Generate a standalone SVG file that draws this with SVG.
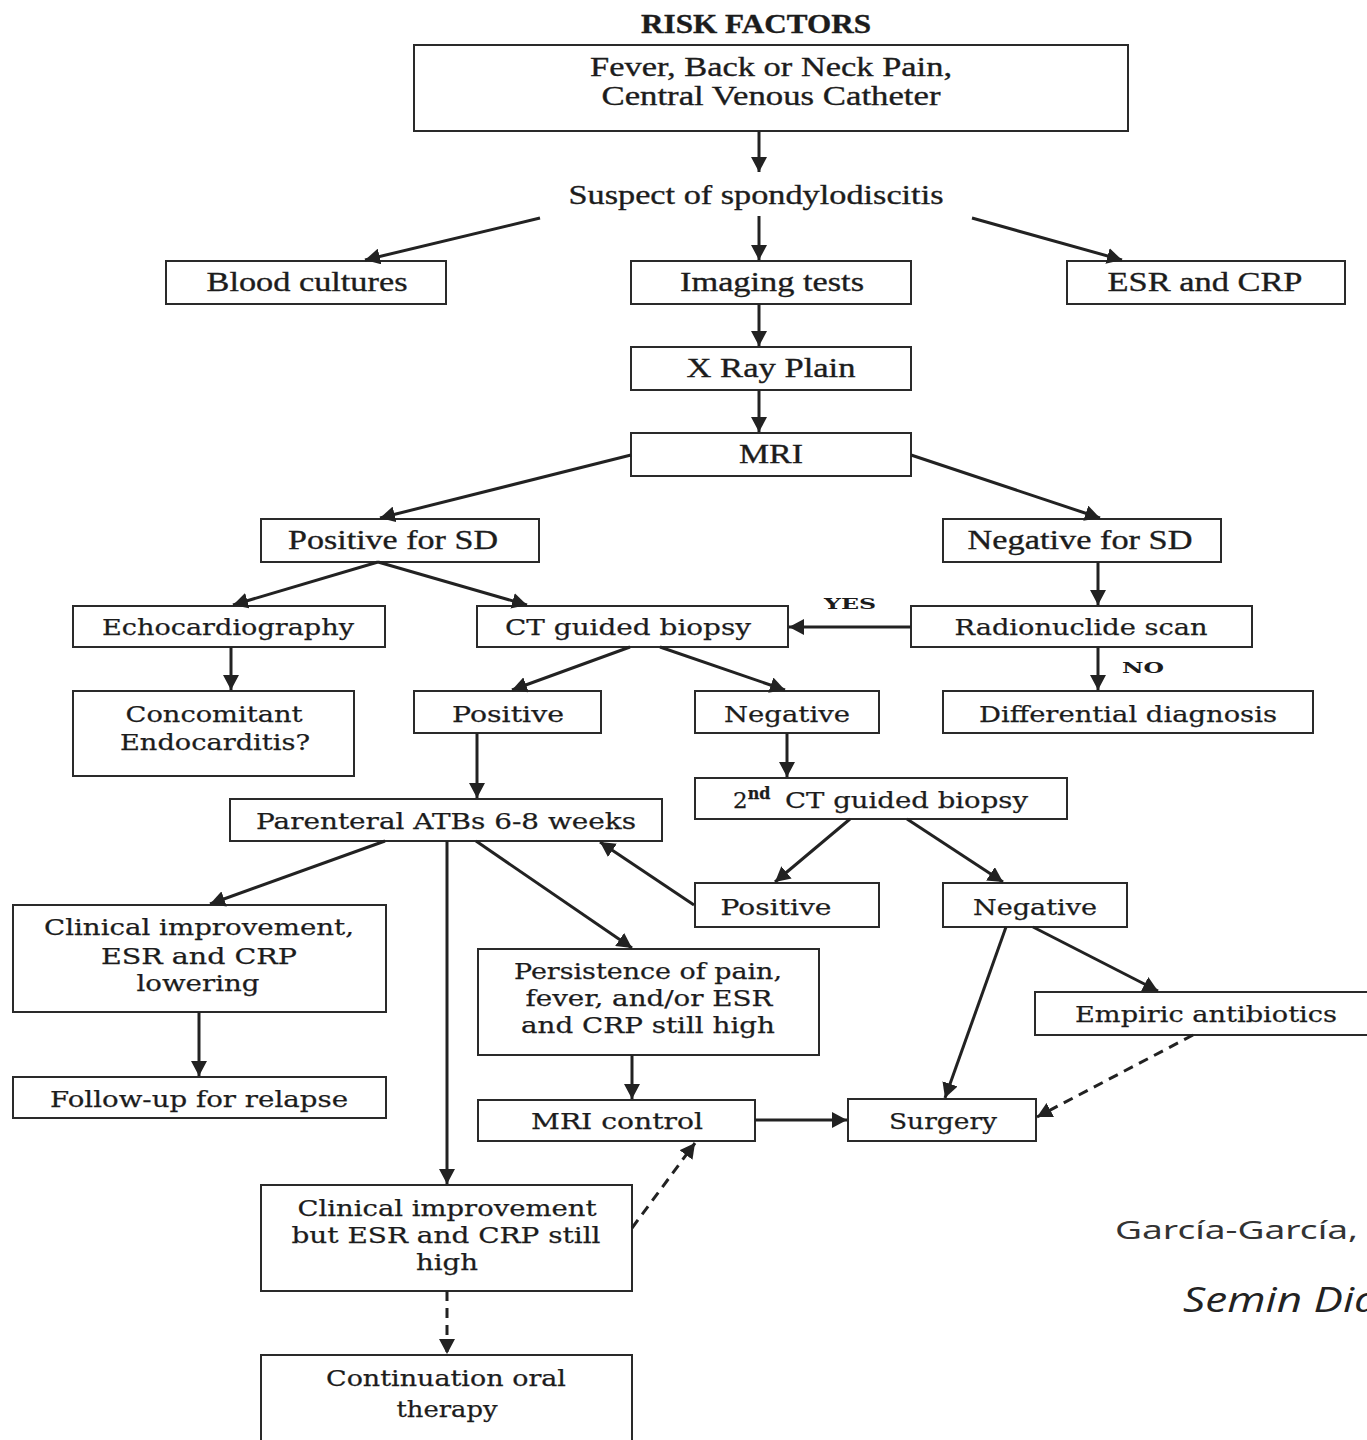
<svg xmlns="http://www.w3.org/2000/svg" width="1367" height="1440" viewBox="0 0 1367 1440">
<style>
.bg{fill:#fff}
.box{fill:#fff;stroke:#2a2a2a;stroke-width:2}
.t{font-family:"Liberation Serif",serif;font-size:28px;fill:#1c1c1c;stroke:#1c1c1c;stroke-width:0.35;text-anchor:middle}
.c{font-family:"DejaVu Serif",serif;font-size:23px;fill:#1c1c1c;stroke:#1c1c1c;stroke-width:0.25;text-anchor:middle}
.lbl{font-family:"DejaVu Serif",serif;font-size:15px;font-weight:bold;fill:#1c1c1c;text-anchor:middle}
.e{stroke:#222;stroke-width:3;fill:none;marker-end:url(#ah)}
.d{stroke-dasharray:10 7}
.cite1{font-family:"Noto Sans",sans-serif;font-size:25px;fill:#333}
.cite2{font-family:"Open Sans",sans-serif;font-size:34px;font-style:italic;fill:#222}
</style>
<defs>
<marker id="ah" markerUnits="userSpaceOnUse" markerWidth="16" markerHeight="16" refX="15" refY="8" orient="auto">
<path d="M0,0 L15,8 L0,16 z" fill="#222"/>
</marker>
</defs>
<rect class="bg" x="0" y="0" width="1367" height="1440"/>

<g id="title"><text class="t" x="756" y="33" font-weight="bold" font-size="22" textLength="230" lengthAdjust="spacingAndGlyphs">RISK FACTORS</text></g>

<g id="risk"><rect class="box" x="414" y="45" width="714" height="86"/>
<text class="t" x="771" y="76" font-size="23" textLength="362" lengthAdjust="spacingAndGlyphs">Fever, Back or Neck Pain,</text>
<text class="t" x="771" y="105" font-size="23" textLength="339" lengthAdjust="spacingAndGlyphs">Central Venous Catheter</text></g>

<g id="suspect"><text class="t" x="756" y="204" textLength="375" lengthAdjust="spacingAndGlyphs">Suspect of spondylodiscitis</text></g>

<g id="blood"><rect class="box" x="166" y="261" width="280" height="43"/>
<text class="t" x="307" y="291" textLength="201" lengthAdjust="spacingAndGlyphs">Blood cultures</text></g>
<g id="imaging"><rect class="box" x="631" y="261" width="280" height="43"/>
<text class="t" x="772" y="291" textLength="184" lengthAdjust="spacingAndGlyphs">Imaging tests</text></g>
<g id="esr"><rect class="box" x="1067" y="261" width="278" height="43"/>
<text class="t" x="1205" y="291" textLength="195" lengthAdjust="spacingAndGlyphs">ESR and CRP</text></g>
<g id="xray"><rect class="box" x="631" y="347" width="280" height="43"/>
<text class="t" x="771" y="377" textLength="169" lengthAdjust="spacingAndGlyphs">X Ray Plain</text></g>
<g id="mri"><rect class="box" x="631" y="433" width="280" height="43"/>
<text class="t" x="771" y="463" textLength="64" lengthAdjust="spacingAndGlyphs">MRI</text></g>
<g id="possd"><rect class="box" x="261" y="519" width="278" height="43"/>
<text class="t" x="393" y="549" textLength="210" lengthAdjust="spacingAndGlyphs">Positive for SD</text></g>
<g id="negsd"><rect class="box" x="943" y="519" width="278" height="43"/>
<text class="t" x="1080" y="549" textLength="225" lengthAdjust="spacingAndGlyphs">Negative for SD</text></g>

<g id="echo"><rect class="box" x="73" y="606" width="312" height="41"/>
<text class="c" x="228" y="635" textLength="252" lengthAdjust="spacingAndGlyphs">Echocardiography</text></g>
<g id="ctbiopsy"><rect class="box" x="477" y="606" width="311" height="41"/>
<text class="c" x="628" y="635" textLength="246" lengthAdjust="spacingAndGlyphs">CT guided biopsy</text></g>
<g id="radio"><rect class="box" x="911" y="606" width="341" height="41"/>
<text class="c" x="1081" y="635" textLength="253" lengthAdjust="spacingAndGlyphs">Radionuclide scan</text></g>
<g id="endo"><rect class="box" x="73" y="691" width="281" height="85"/>
<text class="c" x="214" y="722" textLength="177" lengthAdjust="spacingAndGlyphs">Concomitant</text>
<text class="c" x="215" y="750" textLength="190" lengthAdjust="spacingAndGlyphs">Endocarditis?</text></g>
<g id="pos1"><rect class="box" x="414" y="691" width="187" height="42"/>
<text class="c" x="508" y="722" textLength="112" lengthAdjust="spacingAndGlyphs">Positive</text></g>
<g id="neg1"><rect class="box" x="695" y="691" width="184" height="42"/>
<text class="c" x="787" y="722" textLength="126" lengthAdjust="spacingAndGlyphs">Negative</text></g>
<g id="diff"><rect class="box" x="943" y="691" width="370" height="42"/>
<text class="c" x="1128" y="722" textLength="298" lengthAdjust="spacingAndGlyphs">Differential diagnosis</text></g>
<g id="atb"><rect class="box" x="230" y="799" width="432" height="42"/>
<text class="c" x="446" y="829" textLength="380" lengthAdjust="spacingAndGlyphs">Parenteral ATBs 6-8 weeks</text></g>
<g id="ct2"><rect class="box" x="695" y="778" width="372" height="41"/>
<text class="c" x="733" y="808" style="text-anchor:start">2<tspan font-size="16" dy="-9" font-weight="bold">nd</tspan><tspan x="785" dy="9" textLength="243" lengthAdjust="spacingAndGlyphs">CT guided biopsy</tspan></text></g>
<g id="pos2"><rect class="box" x="695" y="883" width="184" height="44"/>
<text class="c" x="776" y="915" textLength="111" lengthAdjust="spacingAndGlyphs">Positive</text></g>
<g id="neg2"><rect class="box" x="943" y="883" width="184" height="44"/>
<text class="c" x="1035" y="915" textLength="124" lengthAdjust="spacingAndGlyphs">Negative</text></g>
<g id="clin1"><rect class="box" x="13" y="905" width="373" height="107"/>
<text class="c" x="199" y="935" textLength="310" lengthAdjust="spacingAndGlyphs">Clinical improvement,</text>
<text class="c" x="199" y="964" textLength="196" lengthAdjust="spacingAndGlyphs">ESR and CRP</text>
<text class="c" x="198" y="991" textLength="123" lengthAdjust="spacingAndGlyphs">lowering</text></g>
<g id="persist"><rect class="box" x="478" y="949" width="341" height="106"/>
<text class="c" x="648" y="979" textLength="268" lengthAdjust="spacingAndGlyphs">Persistence of pain,</text>
<text class="c" x="649" y="1006" textLength="247" lengthAdjust="spacingAndGlyphs">fever, and/or ESR</text>
<text class="c" x="648" y="1033" textLength="254" lengthAdjust="spacingAndGlyphs">and CRP still high</text></g>
<g id="empiric"><rect class="box" x="1035" y="992" width="340" height="43"/>
<text class="c" x="1206" y="1022" textLength="262" lengthAdjust="spacingAndGlyphs">Empiric antibiotics</text></g>
<g id="follow"><rect class="box" x="13" y="1077" width="373" height="41"/>
<text class="c" x="199" y="1107" textLength="298" lengthAdjust="spacingAndGlyphs">Follow-up for relapse</text></g>
<g id="mricontrol"><rect class="box" x="478" y="1100" width="277" height="41"/>
<text class="c" x="617" y="1129" textLength="172" lengthAdjust="spacingAndGlyphs">MRI control</text></g>
<g id="surgery"><rect class="box" x="848" y="1099" width="188" height="42"/>
<text class="c" x="943" y="1129" textLength="108" lengthAdjust="spacingAndGlyphs">Surgery</text></g>
<g id="clin2"><rect class="box" x="261" y="1185" width="371" height="106"/>
<text class="c" x="447" y="1216" textLength="299" lengthAdjust="spacingAndGlyphs">Clinical improvement</text>
<text class="c" x="446" y="1243" textLength="309" lengthAdjust="spacingAndGlyphs">but ESR and CRP still</text>
<text class="c" x="447" y="1270" textLength="62" lengthAdjust="spacingAndGlyphs">high</text></g>
<g id="oral"><rect class="box" x="261" y="1355" width="371" height="100"/>
<text class="c" x="446" y="1386" textLength="240" lengthAdjust="spacingAndGlyphs">Continuation oral</text>
<text class="c" x="447" y="1417" textLength="101" lengthAdjust="spacingAndGlyphs">therapy</text></g>

<g id="connectors">
<line class="e" x1="759" y1="131" x2="759" y2="172"/>
<line class="e" x1="540" y1="218" x2="365" y2="260"/>
<line class="e" x1="759" y1="216" x2="759" y2="260"/>
<line class="e" x1="972" y1="218" x2="1122" y2="260"/>
<line class="e" x1="759" y1="304" x2="759" y2="346"/>
<line class="e" x1="759" y1="390" x2="759" y2="432"/>
<line class="e" x1="631" y1="455" x2="380" y2="518"/>
<line class="e" x1="911" y1="455" x2="1100" y2="518"/>
<line class="e" x1="378" y1="562" x2="233" y2="605"/>
<line class="e" x1="378" y1="562" x2="527" y2="605"/>
<line class="e" x1="1098" y1="562" x2="1098" y2="605"/>
<line class="e" x1="911" y1="627" x2="789" y2="627"/>
<line class="e" x1="1098" y1="647" x2="1098" y2="690"/>
<line class="e" x1="231" y1="647" x2="231" y2="690"/>
<line class="e" x1="630" y1="647" x2="512" y2="690"/>
<line class="e" x1="660" y1="647" x2="785" y2="690"/>
<line class="e" x1="477" y1="733" x2="477" y2="798"/>
<line class="e" x1="787" y1="733" x2="787" y2="777"/>
<line class="e" x1="850" y1="819" x2="775" y2="882"/>
<line class="e" x1="907" y1="819" x2="1003" y2="882"/>
<line class="e" x1="694" y1="905" x2="600" y2="842"/>
<line class="e" x1="385" y1="841" x2="210" y2="904"/>
<line class="e" x1="447" y1="841" x2="447" y2="1184"/>
<line class="e" x1="476" y1="841" x2="632" y2="948"/>
<line class="e" x1="199" y1="1012" x2="199" y2="1076"/>
<line class="e" x1="632" y1="1055" x2="632" y2="1099"/>
<line class="e" x1="755" y1="1120" x2="847" y2="1120"/>
<line class="e" x1="1006" y1="927" x2="945" y2="1098"/>
<line class="e" x1="1033" y1="927" x2="1158" y2="991"/>
<line class="e d" x1="1193" y1="1035" x2="1037" y2="1117"/>
<line class="e d" x1="632" y1="1228" x2="695" y2="1143"/>
<line class="e d" x1="447" y1="1291" x2="447" y2="1354"/>
</g>
<g id="labels">
<text class="lbl" x="850" y="609" textLength="52" lengthAdjust="spacingAndGlyphs">YES</text>
<text class="lbl" x="1143" y="673" textLength="42" lengthAdjust="spacingAndGlyphs">NO</text>
</g>
<g id="citation">
<text class="cite1" x="1115" y="1239" textLength="243" lengthAdjust="spacingAndGlyphs">García-García,</text>
<text class="cite2" x="1183" y="1312" textLength="196" lengthAdjust="spacingAndGlyphs">Semin Dia</text>
</g>
</svg>
